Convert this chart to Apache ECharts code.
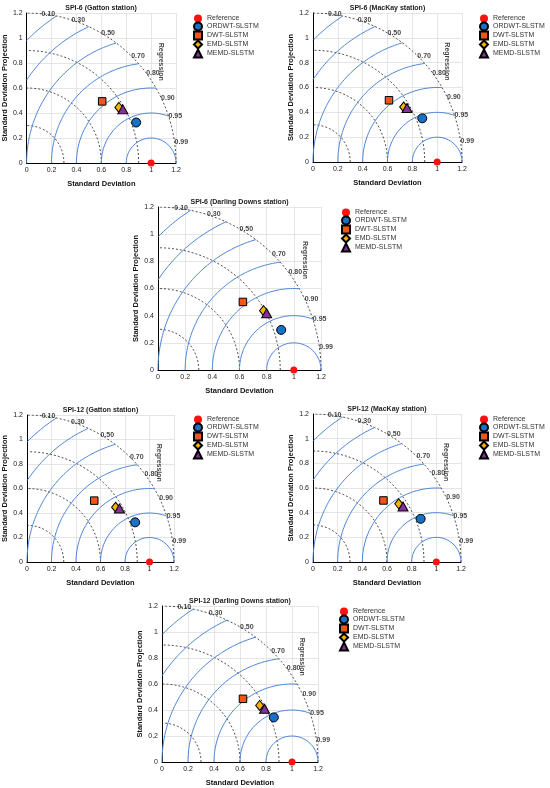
<!DOCTYPE html>
<html>
<head>
<meta charset="utf-8">
<script src="https://cdn.jsdelivr.net/npm/echarts@6/dist/echarts.min.js"></script>
<style>
  html, body { margin: 0; padding: 0; background: #fff; }
  #chart { width: 550px; height: 788px; }
</style>
</head>
<body>
<div id="chart"></div>
<script>
// Panel titles
const panelTitles = [
    'SPI-6 (Gatton station)',
    'SPI-6 (MacKay station)',
    'SPI-6 (Darling Downs station)',
    'SPI-12 (Gatton station)',
    'SPI-12 (MacKay station)',
    'SPI-12 (Darling Downs station)'
];

const modelNames = ['Reference', 'ORDWT-SLSTM', 'DWT-SLSTM', 'EMD-SLSTM', 'MEMD-SLSTM'];

// [std deviation along x, projection along y], one pair per panel
const referencePoints = [[1, 0], [1, 0], [1, 0], [1, 0], [1, 0], [1, 0]];
const ordwtPoints = [[0.88, 0.324], [0.88, 0.352], [0.907, 0.295], [0.883, 0.324], [0.873, 0.35], [0.86, 0.343]];
const dwtPoints = [[0.607, 0.493], [0.612, 0.497], [0.625, 0.501], [0.549, 0.501], [0.571, 0.499], [0.623, 0.486]];
const emdPoints = [[0.741, 0.445], [0.73, 0.443], [0.777, 0.437], [0.723, 0.447], [0.695, 0.472], [0.751, 0.435]];
const memdPoints = [[0.773, 0.429], [0.757, 0.435], [0.80, 0.418], [0.755, 0.436], [0.73, 0.45], [0.789, 0.409]];

// Diagram reference lines
const stdArcs = [0.3, 0.6, 0.9, 1.2];
const rmsArcs = [0.2, 0.4, 0.6, 0.8, 1.0, 1.2, 1.4];
const corrLabels = ['0.10', '0.30', '0.50', '0.70', '0.80', '0.90', '0.95', '0.99'];
const axisMax = 1.2;
const axisStep = 0.2;

// Pixel layout of each panel: plot box + legend anchor (centre of first legend marker)
const layout = [
    { left: 26, top: 13, size: 150, legendX: 197, legendY: 18 },
    { left: 313, top: 13, size: 149, legendX: 483, legendY: 18 },
    { left: 158, top: 207, size: 163, legendX: 345, legendY: 212 },
    { left: 27, top: 415, size: 147, legendX: 197, legendY: 419 },
    { left: 313, top: 414, size: 148, legendX: 483, legendY: 419 },
    { left: 162, top: 606, size: 156, legendX: 343, legendY: 611 }
];

const FONT = 'Liberation Sans, Arial, sans-serif';

function stdArc(r) {
    const pts = [];
    for (let a = 0; a <= 90; a += 1) {
        const t = a * Math.PI / 180;
        pts.push([r * Math.cos(t), r * Math.sin(t)]);
    }
    return pts;
}

// circle around the reference (1,0), clipped to the quarter disc of radius axisMax
function rmsArc(r) {
    const xs = (axisMax * axisMax + 1 - r * r) / 2;
    const c0 = (xs - 1) / r;
    const start = c0 >= 1 ? 0 : Math.acos(Math.max(-1, c0));
    const end = r <= 1 ? Math.PI : Math.acos(-1 / r);
    const pts = [];
    const n = 120;
    for (let i = 0; i <= n; i++) {
        const t = start + (end - start) * i / n;
        pts.push([1 + r * Math.cos(t), r * Math.sin(t)]);
    }
    return pts;
}

const tickFmt = v => (Math.abs(v) < 1e-9 ? '0' : String(+v.toFixed(1)));

const grids = [], xAxes = [], yAxes = [], series = [], titles = [], legends = [];

layout.forEach((p, i) => {
    grids.push({ left: p.left, top: p.top, width: p.size, height: p.size });
    const axisCommon = {
        gridIndex: i,
        type: 'value',
        min: 0,
        max: axisMax,
        interval: axisStep,
        nameLocation: 'middle',
        nameTextStyle: { fontFamily: FONT, fontWeight: 'bold', fontSize: 7.5, color: '#111' },
        axisLine: { show: true, lineStyle: { color: '#000', width: 1 } },
        axisTick: { show: false },
        axisLabel: { fontFamily: FONT, fontSize: 7, color: '#222', margin: 4, formatter: tickFmt },
        splitLine: { show: true, lineStyle: { color: '#dedede', width: 0.8 } }
    };
    xAxes.push(Object.assign({}, axisCommon, { name: 'Standard Deviation', nameGap: 17 }));
    yAxes.push(Object.assign({}, axisCommon, { name: 'Standard Deviation Projection', nameGap: 17 }));

    titles.push({
        text: panelTitles[i],
        left: p.left + p.size / 2,
        top: p.top - 8,
        textAlign: 'center',
        padding: 0,
        textStyle: { fontFamily: FONT, fontWeight: 'bold', fontSize: 7, color: '#222' }
    });

    stdArcs.forEach(r => {
        series.push({
            type: 'line', xAxisIndex: i, yAxisIndex: i, showSymbol: false, silent: true,
            data: stdArc(r), z: 2,
            lineStyle: { color: '#222', width: 0.8, type: [2, 2] }
        });
    });
    rmsArcs.forEach(r => {
        series.push({
            type: 'line', xAxisIndex: i, yAxisIndex: i, showSymbol: false, silent: true,
            data: rmsArc(r), z: 2,
            lineStyle: { color: '#4d86d6', width: 1 }
        });
    });

    // correlation labels on the outer arc
    series.push({
        type: 'scatter', xAxisIndex: i, yAxisIndex: i, symbolSize: 0, silent: true, z: 3,
        data: corrLabels.map(c => {
            const t = Math.acos(parseFloat(c));
            return { value: [axisMax * Math.cos(t), axisMax * Math.sin(t)], name: c };
        }),
        label: {
            show: true, position: 'right', distance: 0, formatter: '{b}',
            fontFamily: FONT, fontWeight: 'bold', fontSize: 7, color: '#111'
        }
    });
    series.push({
        type: 'scatter', xAxisIndex: i, yAxisIndex: i, symbolSize: 0, silent: true, z: 3,
        data: [{ value: [1.08, 0.81], name: 'Regression' }],
        label: {
            show: true, position: 'inside', rotate: -90, formatter: '{b}',
            fontFamily: FONT, fontWeight: 'bold', fontSize: 7, color: '#111'
        }
    });

    const markers = [
        { name: modelNames[0], data: referencePoints[i], symbol: 'circle', size: 7, color: '#ff1010', border: 0 },
        { name: modelNames[1], data: ordwtPoints[i], symbol: 'circle', size: 9, color: '#1771c6', border: 1 },
        { name: modelNames[2], data: dwtPoints[i], symbol: 'rect', size: 7.5, color: '#f0561a', border: 1 },
        { name: modelNames[3], data: emdPoints[i], symbol: 'diamond', size: [8, 10], color: '#f6b400', border: 1 },
        { name: modelNames[4], data: memdPoints[i], symbol: 'triangle', size: [10, 9], color: '#86309a', border: 1 }
    ];
    markers.forEach((m, k) => {
        series.push({
            name: m.name, type: 'scatter', xAxisIndex: i, yAxisIndex: i,
            symbol: m.symbol, symbolSize: m.size, z: 5 + k,
            data: [m.data],
            itemStyle: { color: m.color, borderColor: '#000', borderWidth: m.border, opacity: 1 }
        });
    });

    legends.push({
        data: modelNames,
        orient: 'vertical',
        left: p.legendX - 4,
        top: p.legendY - 3.5,
        padding: 0,
        itemWidth: 8,
        itemHeight: 8,
        itemGap: -1,
        selectedMode: false,
        textStyle: { fontFamily: FONT, fontSize: 7, lineHeight: 8, color: '#333' }
    });
});

const chart = echarts.init(document.getElementById('chart'), null, { renderer: 'canvas' });
chart.setOption({
    animation: false,
    backgroundColor: '#fff',
    title: titles,
    legend: legends,
    grid: grids,
    xAxis: xAxes,
    yAxis: yAxes,
    series: series
});
</script>
</body>
</html>
